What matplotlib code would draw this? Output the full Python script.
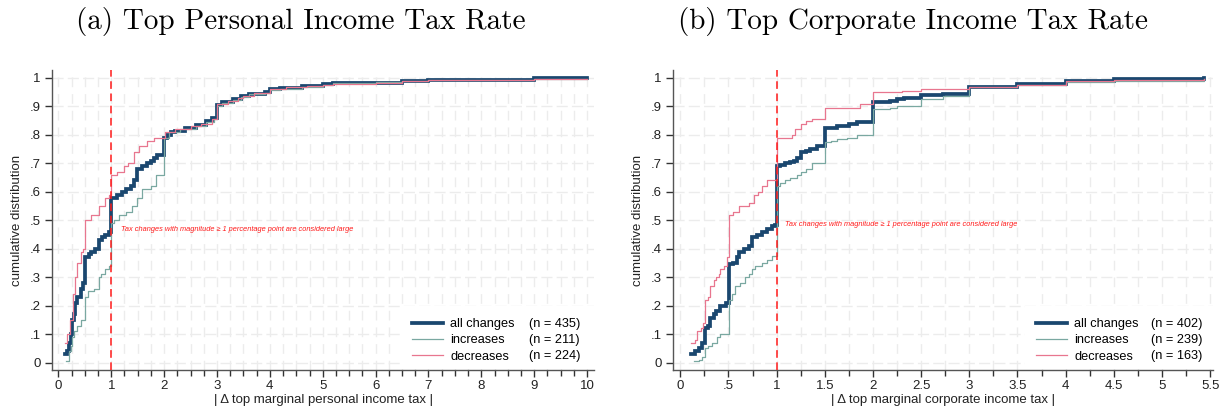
import matplotlib
matplotlib.use("Agg")
import matplotlib.pyplot as plt
from matplotlib.lines import Line2D
from matplotlib.ticker import MultipleLocator

plt.rcParams['font.family'] = ['Liberation Sans', 'DejaVu Sans']

# ---------------- Data: panel (a) personal income tax ----------------
a_all_x = [0.13, 0.165, 0.20, 0.23, 0.26, 0.29, 0.32, 0.355, 0.42, 0.47, 0.51, 0.575, 0.61, 0.70,
           0.77, 0.83, 0.89, 0.96, 1.00, 1.11, 1.21, 1.27, 1.37, 1.43, 1.49, 1.59, 1.68, 1.75,
           1.81, 1.87, 2.00, 2.06, 2.13, 2.20, 2.40, 2.60, 2.80, 2.90, 3.00, 3.10, 3.30, 3.45,
           3.60, 3.90, 4.00, 4.20, 4.60, 5.00, 5.20, 6.00, 6.50, 7.00, 9.00, 10.0]
a_all_y = [0.03, 0.04, 0.07, 0.10, 0.15, 0.17, 0.21, 0.23, 0.26, 0.28, 0.37, 0.38, 0.39, 0.40,
           0.43, 0.44, 0.45, 0.46, 0.58, 0.59, 0.60, 0.61, 0.62, 0.64, 0.68, 0.69, 0.70, 0.71,
           0.72, 0.73, 0.79, 0.80, 0.81, 0.815, 0.825, 0.835, 0.85, 0.86, 0.905, 0.915, 0.925, 0.935,
           0.945, 0.95, 0.96, 0.965, 0.972, 0.978, 0.981, 0.984, 0.99, 0.993, 0.999, 1.0]

a_inc_x = [0.15, 0.20, 0.23, 0.26, 0.29, 0.355, 0.42, 0.51, 0.57, 0.67, 0.77, 0.80, 0.89, 0.96,
           1.00, 1.05, 1.15, 1.27, 1.40, 1.49, 1.59, 1.75, 1.84, 2.00, 2.10, 2.30, 2.60, 2.80,
           2.95, 3.00, 3.10, 3.30, 3.45, 3.60, 3.90, 4.00, 4.20, 4.60, 5.00, 5.20, 6.00, 6.50,
           7.00, 9.00, 10.0]
a_inc_y = [0.005, 0.04, 0.06, 0.09, 0.11, 0.13, 0.15, 0.23, 0.25, 0.26, 0.30, 0.31, 0.33, 0.34,
           0.49, 0.50, 0.52, 0.53, 0.55, 0.58, 0.61, 0.62, 0.66, 0.79, 0.81, 0.82, 0.83, 0.845,
           0.855, 0.903, 0.913, 0.923, 0.933, 0.943, 0.948, 0.958, 0.963, 0.97, 0.977, 0.981, 0.986, 0.99,
           0.993, 0.997, 0.997]

a_dec_x = [0.13, 0.165, 0.215, 0.28, 0.32, 0.355, 0.42, 0.46, 0.51, 0.61, 0.77, 0.89, 0.96,
           1.00, 1.11, 1.24, 1.32, 1.43, 1.53, 1.68, 1.81, 2.01, 2.20, 2.50, 2.70, 2.90, 3.00,
           3.20, 3.40, 3.50, 3.70, 4.00, 4.30, 4.70, 5.00, 5.20, 6.00, 6.50, 7.00, 9.00, 10.0]
a_dec_y = [0.07, 0.10, 0.15, 0.24, 0.30, 0.35, 0.39, 0.40, 0.50, 0.52, 0.55, 0.58, 0.59,
           0.66, 0.67, 0.69, 0.70, 0.74, 0.76, 0.78, 0.79, 0.81, 0.82, 0.83, 0.84, 0.855, 0.908,
           0.918, 0.928, 0.938, 0.948, 0.96, 0.967, 0.972, 0.976, 0.979, 0.982, 0.988, 0.992, 0.995, 0.995]

# ---------------- Data: panel (b) corporate income tax ----------------
b_all_x = [0.11, 0.155, 0.19, 0.225, 0.26, 0.29, 0.31, 0.345, 0.375, 0.41, 0.47, 0.51, 0.55,
           0.585, 0.605, 0.66, 0.71, 0.745, 0.80, 0.85, 0.90, 0.95, 0.98, 1.00, 1.04, 1.09,
           1.14, 1.18, 1.21, 1.25, 1.30, 1.35, 1.42, 1.50, 1.63, 1.75, 1.83, 2.00, 2.18, 2.25,
           2.32, 2.50, 2.73, 3.00, 3.50, 4.00, 4.50, 5.44]
b_all_y = [0.03, 0.04, 0.05, 0.07, 0.12, 0.13, 0.155, 0.17, 0.18, 0.20, 0.21, 0.345, 0.35,
           0.37, 0.39, 0.40, 0.41, 0.44, 0.45, 0.46, 0.47, 0.48, 0.485, 0.69, 0.695, 0.70,
           0.705, 0.71, 0.72, 0.74, 0.745, 0.75, 0.76, 0.825, 0.83, 0.84, 0.845, 0.915, 0.92, 0.925,
           0.93, 0.94, 0.945, 0.97, 0.98, 0.99, 0.997, 1.0]

b_inc_x = [0.14, 0.19, 0.225, 0.26, 0.29, 0.33, 0.38, 0.415, 0.51, 0.535, 0.57, 0.62, 0.675,
           0.71, 0.745, 0.78, 0.85, 0.90, 0.95, 1.00, 1.04, 1.09, 1.14, 1.21, 1.25, 1.30, 1.37,
           1.50, 1.56, 1.63, 1.73, 1.83, 2.00, 2.18, 2.25, 2.50, 2.73, 3.00, 3.50, 4.00, 4.50, 5.44]
b_inc_y = [0.005, 0.01, 0.02, 0.05, 0.06, 0.07, 0.09, 0.10, 0.22, 0.24, 0.27, 0.28, 0.30,
           0.31, 0.33, 0.34, 0.35, 0.36, 0.375, 0.62, 0.63, 0.64, 0.65, 0.66, 0.67, 0.68, 0.70,
           0.775, 0.78, 0.785, 0.79, 0.80, 0.89, 0.895, 0.90, 0.925, 0.935, 0.97, 0.975, 0.985, 0.99, 0.995]

b_dec_x = [0.11, 0.155, 0.17, 0.21, 0.235, 0.26, 0.29, 0.31, 0.35, 0.37, 0.40, 0.415, 0.45,
           0.485, 0.51, 0.55, 0.605, 0.71, 0.76, 0.81, 0.85, 0.90, 1.00, 1.16, 1.19, 1.25,
           1.30, 1.37, 1.50, 1.87, 2.00, 2.30, 2.50, 3.00, 3.50, 4.00, 4.50, 5.44]
b_dec_y = [0.068, 0.08, 0.11, 0.12, 0.14, 0.22, 0.23, 0.27, 0.29, 0.30, 0.31, 0.33, 0.34,
           0.37, 0.52, 0.53, 0.55, 0.56, 0.59, 0.60, 0.62, 0.64, 0.79, 0.80, 0.82, 0.84,
           0.85, 0.855, 0.895, 0.91, 0.95, 0.955, 0.96, 0.97, 0.977, 0.988, 0.993, 0.995]

series_labels = ["all changes", "increases", "decreases"]
a_counts = [435, 211, 224]
b_counts = [402, 239, 163]

titles = ["(a) Top Personal Income Tax Rate", "(b) Top Corporate Income Tax Rate"]
xlabels = ["| \u0394 top marginal personal income tax |", "| \u0394 top marginal corporate income tax |"]
ytick_vals = [0, .1, .2, .3, .4, .5, .6, .7, .8, .9, 1]
ytick_labels = ["0", ".1", ".2", ".3", ".4", ".5", ".6", ".7", ".8", ".9", "1"]
a_xticks = list(range(0, 11))
a_xticklabels = [str(v) for v in a_xticks]
b_xticks = [0, .5, 1, 1.5, 2, 2.5, 3, 3.5, 4, 4.5, 5, 5.5]
b_xticklabels = ["0", ".5", "1", "1.5", "2", "2.5", "3", "3.5", "4", "4.5", "5", "5.5"]
note = "Tax changes with magnitude \u2265 1 percentage point are considered large"

C_ALL = "#1a476f"
C_INC = "#7aa8a1"
C_DEC = "#e8768f"
C_RED = "#ff1a1a"
GRID = "#ececec"
FS = 9.5
LFS = 9.2

fig = plt.figure(figsize=(12.25, 4.12), dpi=100)

W, H = 1225.0, 412.0
panels = [
    dict(rect=[52 / W, (H - 370) / H, 542 / W, 300 / H], xlim=(-0.12, 10.13),
         data=[(a_all_x, a_all_y), (a_inc_x, a_inc_y), (a_dec_x, a_dec_y)], counts=a_counts,
         xticks=a_xticks, xticklabels=a_xticklabels, minor=0.25, note_xy=(1.18, 0.466),
         leg_left=0.664, leg_right=0.976, title_x=301 / W),
    dict(rect=[673 / W, (H - 370) / H, 540 / W, 300 / H], xlim=(-0.076, 5.53),
         data=[(b_all_x, b_all_y), (b_inc_x, b_inc_y), (b_dec_x, b_dec_y)], counts=b_counts,
         xticks=b_xticks, xticklabels=b_xticklabels, minor=0.25, note_xy=(1.09, 0.486),
         leg_left=0.672, leg_right=0.981, title_x=913 / W),
]

for i, p in enumerate(panels):
    ax = fig.add_axes(p["rect"])
    ax.set_xlim(*p["xlim"])
    ax.set_ylim(-0.026, 1.028)
    for s in ["top", "right"]:
        ax.spines[s].set_visible(False)
    for s in ["left", "bottom"]:
        ax.spines[s].set_color("#555555")
        ax.spines[s].set_linewidth(1.0)

    ax.set_yticks(ytick_vals)
    ax.set_yticklabels(ytick_labels)
    ax.set_xticks(p["xticks"])
    ax.set_xticklabels(p["xticklabels"])
    ax.xaxis.set_minor_locator(MultipleLocator(p["minor"]))
    ax.tick_params(axis="both", which="major", length=5, width=1.0, color="#333333",
                   labelsize=FS, labelcolor="#222222", pad=2)
    ax.tick_params(axis="x", which="minor", length=4, width=1.0, color="#333333")
    ax.tick_params(axis="y", which="major", pad=3)

    ax.grid(True, axis="y", which="major", color=GRID, linestyle=(0, (8, 3)), linewidth=1.0, zorder=0)
    ax.grid(True, axis="x", which="both", color=GRID, linestyle=(0, (7, 5)), linewidth=1.0, zorder=0)
    ax.set_axisbelow(True)

    (xa, ya), (xi, yi), (xd, yd) = p["data"]
    l_all, = ax.plot(xa, ya, drawstyle="steps-post", color=C_ALL, lw=2.7, zorder=3,
                     solid_joinstyle="miter")
    l_inc, = ax.plot(xi, yi, drawstyle="steps-post", color=C_INC, lw=0.9, zorder=4)
    l_dec, = ax.plot(xd, yd, drawstyle="steps-post", color=C_DEC, lw=0.9, zorder=5)

    ax.axvline(1, color=C_RED, lw=1.1, linestyle=(0, (5, 3)), zorder=6)
    ax.text(p["note_xy"][0], p["note_xy"][1], note, color=C_RED, fontsize=5.3,
            style="italic", va="center", ha="left", zorder=6)

    ax.set_ylabel("cumulative distribution", fontsize=FS, color="#222222", labelpad=5)
    ax.set_xlabel(xlabels[i], fontsize=FS, color="#222222", labelpad=2)

    leg1 = ax.legend([l_all, l_inc, l_dec], series_labels, loc="lower left",
                     bbox_to_anchor=(p["leg_left"], 0.025), frameon=False, fontsize=LFS,
                     handlelength=2.4, handletextpad=0.6, labelspacing=0.32,
                     borderpad=0.0, borderaxespad=0.0)
    ax.add_artist(leg1)
    blanks = [Line2D([], [], alpha=0) for _ in range(3)]
    ax.legend(blanks, ["(n = %d)" % c for c in p["counts"]], loc="lower right",
              bbox_to_anchor=(p["leg_right"], 0.025), frameon=False, fontsize=LFS,
              handlelength=0, handletextpad=0, labelspacing=0.32,
              borderpad=0.0, borderaxespad=0.0)
    ax.axvspan(p["xlim"][0] + (p["xlim"][1] - p["xlim"][0]) * (p["leg_left"] - 0.02),
               p["xlim"][1], ymin=0.005, ymax=0.215, color="white", zorder=1, lw=0)

    fig.text(p["title_x"], 1 - 22 / H, titles[i], family="cmr10", fontsize=21,
             ha="center", va="center")

fig.savefig("out.png", dpi=100)
